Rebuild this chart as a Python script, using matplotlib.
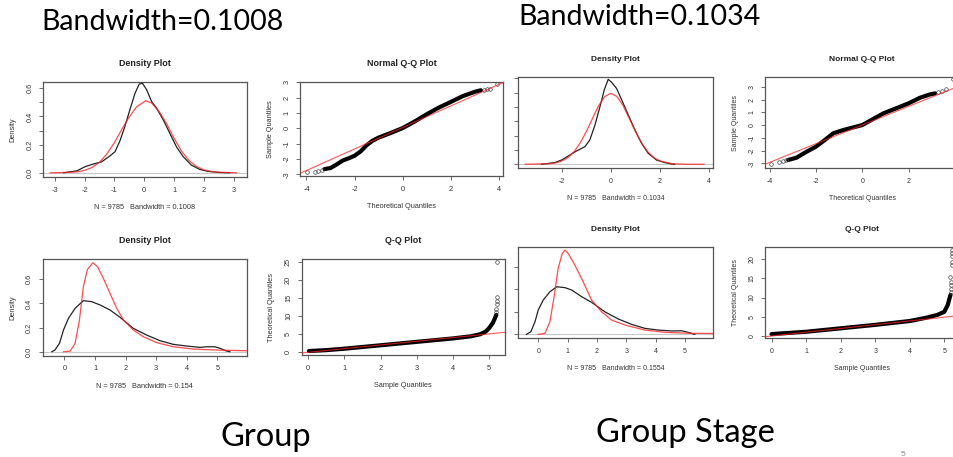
import matplotlib
matplotlib.use("Agg")
import matplotlib.pyplot as plt

# ---------------- data ----------------
# Top-left density (Group, residuals)
d1_kde_x = [-2.71, -2.26, -1.99, -1.71, -1.43, -1.15, -0.98, -0.81, -0.65, -0.48, -0.31, -0.17, -0.06,
            0.08, 0.25, 0.41, 0.64, 0.86, 1.08, 1.31, 1.58, 1.86, 2.14, 2.53, 2.87]
d1_kde_y = [0.0, 0.014, 0.043, 0.062, 0.078, 0.12, 0.15, 0.23, 0.33, 0.45, 0.565, 0.63, 0.636,
            0.59, 0.505, 0.46, 0.375, 0.28, 0.185, 0.114, 0.055, 0.024, 0.01, 0.002, 0.0]
d1_fit_x = [-3.15, -2.5, -2.25, -2.0, -1.75, -1.5, -1.25, -1.0, -0.75, -0.5, -0.25, 0.05, 0.25,
            0.5, 0.75, 1.0, 1.25, 1.5, 1.75, 2.0, 2.25, 2.5, 3.1]
d1_fit_y = [0.0, 0.003, 0.007, 0.017, 0.038, 0.075, 0.135, 0.215, 0.31, 0.398, 0.47, 0.512, 0.495,
            0.435, 0.35, 0.245, 0.155, 0.088, 0.045, 0.021, 0.009, 0.004, 0.0]

# Top-left normal Q-Q
q1_band_x = [-3.25, -3.0, -2.75, -2.5, -2.25, -2.0, -1.75, -1.5, -1.25, -1.0, -0.5, 0.0, 0.5, 1.0,
             1.5, 2.0, 2.5, 3.0, 3.25]
q1_band_y = [-2.65, -2.58, -2.35, -2.1, -1.95, -1.78, -1.5, -1.1, -0.8, -0.6, -0.3, 0.02, 0.45, 0.92,
             1.35, 1.72, 2.1, 2.38, 2.48]
q1_tail_x = [-3.97, -3.65, -3.51, -3.37, 3.36, 3.5, 3.63, 3.94]
q1_tail_y = [-2.85, -2.85, -2.79, -2.72, 2.51, 2.55, 2.57, 2.89]
q1_line = [0.06, 0.70]  # intercept, slope

# Top-right density (Group Stage, residuals)
d3_kde_x = [-2.83, -2.29, -2.01, -1.67, -1.40, -1.06, -0.86, -0.65, -0.45, -0.27, -0.11, 0.03, 0.23,
            0.44, 0.71, 0.98, 1.25, 1.52, 1.86, 2.2, 2.48, 2.6]
d3_kde_y = [0.0, 0.012, 0.03, 0.065, 0.093, 0.123, 0.17, 0.274, 0.40, 0.52, 0.593, 0.572, 0.53,
            0.45, 0.344, 0.24, 0.147, 0.077, 0.03, 0.012, 0.002, 0.0]
d3_fit_x = [-3.5, -2.5, -2.25, -2.0, -1.75, -1.5, -1.25, -1.0, -0.75, -0.5, -0.25, 0.0, 0.25, 0.5,
            0.75, 1.0, 1.25, 1.5, 1.75, 2.0, 2.5, 3.0, 3.8]
d3_fit_y = [0.0, 0.004, 0.01, 0.023, 0.047, 0.088, 0.15, 0.229, 0.32, 0.409, 0.473, 0.495, 0.473,
            0.409, 0.32, 0.229, 0.15, 0.088, 0.047, 0.023, 0.004, 0.0005, 0.0]

# Top-right normal Q-Q
q4_band_x = [-3.21, -2.85, -2.41, -2.01, -1.62, -1.26, -0.82, 0.0, 0.91, 2.0, 2.5, 2.93, 3.15]
q4_band_y = [-2.74, -2.56, -2.09, -1.7, -1.17, -0.65, -0.39, 0.0, 0.91, 1.7, 2.14, 2.4, 2.48]
q4_tail_x = [-3.93, -3.6, -3.45, -3.31, 3.29, 3.44, 3.63, 3.92]
q4_tail_y = [-3.08, -2.87, -2.82, -2.77, 2.56, 2.66, 2.79, 3.57]
q4_line = [0.0, 0.73]

# Bottom-left density (Group, responses)
d5_kde_x = [-0.41, -0.31, -0.16, -0.03, 0.13, 0.35, 0.62, 0.89, 1.17, 1.49, 1.82, 2.25, 2.69, 3.13,
            3.56, 4.0, 4.43, 4.65, 4.92, 5.09, 5.3, 5.41]
d5_kde_y = [0.0, 0.014, 0.07, 0.18, 0.276, 0.36, 0.423, 0.415, 0.387, 0.346, 0.285, 0.194, 0.138,
            0.091, 0.061, 0.047, 0.036, 0.041, 0.041, 0.028, 0.006, 0.0]
d5_fit_x = [-0.03, 0.19, 0.35, 0.49, 0.62, 0.75, 0.93, 1.08, 1.27, 1.49, 1.71, 1.93, 2.25, 2.58,
            3.02, 3.56, 4.22, 4.98, 5.96]
d5_fit_y = [0.0, 0.005, 0.07, 0.26, 0.54, 0.68, 0.738, 0.705, 0.61, 0.484, 0.36, 0.263, 0.18, 0.124,
            0.075, 0.041, 0.022, 0.014, 0.008]

# Bottom-left Q-Q
q6_band_x = [0.02, 0.5, 1.0, 2.0, 3.0, 4.0, 4.5, 4.75, 4.9, 5.0, 5.1, 5.15, 5.2]
q6_band_y = [0.35, 0.6, 1.0, 1.95, 2.9, 3.85, 4.45, 5.0, 5.7, 6.7, 8.1, 9.2, 10.4]
q6_tail_x = [5.2, 5.2, 5.22, 5.22, 5.22, 5.22]
q6_tail_y = [11.2, 12.0, 13.5, 14.3, 15.3, 25.0]
q6_line = [0.0, 1.02]

# Bottom-right density (Group Stage, responses)
d7_kde_x = [-0.4, -0.25, -0.11, 0.0, 0.17, 0.4, 0.63, 0.91, 1.14, 1.48, 1.82, 2.27, 2.73, 3.18,
            3.64, 4.09, 4.55, 4.89, 5.11, 5.34]
d7_kde_y = [0.0, 0.024, 0.112, 0.216, 0.304, 0.378, 0.422, 0.414, 0.393, 0.334, 0.284, 0.2, 0.136,
            0.089, 0.053, 0.038, 0.03, 0.032, 0.018, 0.0]
d7_fit_x = [0.0, 0.23, 0.4, 0.55, 0.68, 0.82, 0.91, 1.02, 1.25, 1.53, 1.82, 2.16, 2.5, 2.95, 3.64,
            4.32, 5.23, 5.97]
d7_fit_y = [0.0, 0.009, 0.112, 0.349, 0.585, 0.718, 0.747, 0.718, 0.614, 0.467, 0.304, 0.2, 0.127,
            0.083, 0.038, 0.018, 0.009, 0.008]

# Bottom-right Q-Q
q8_band_x = [0.0, 1.0, 2.0, 3.0, 4.0, 4.5, 4.8, 5.0, 5.1, 5.15, 5.18]
q8_band_y = [0.5, 1.1, 2.0, 2.9, 3.9, 4.8, 5.5, 6.3, 8.1, 9.8, 10.7]
q8_tail_x = [5.18, 5.18, 5.18, 5.18, 5.16, 5.21, 5.21, 5.21, 5.21, 5.21]
q8_tail_y = [11.5, 12.3, 13.2, 14.0, 15.3, 18.5, 19.2, 20.9, 21.6, 22.3]
q8_line = [0.0, 0.98]

bw_labels = ["Bandwidth=0.1008", "Bandwidth=0.1034"]
group_labels = ["Group", "Group Stage"]
dens_xlabels = ["N = 9785   Bandwidth = 0.1008", "N = 9785   Bandwidth = 0.1034",
                "N = 9785   Bandwidth = 0.154", "N = 9785   Bandwidth = 0.1554"]

# ---------------- figure ----------------
W, H = 954, 457
fig = plt.figure(figsize=(W / 100, H / 100), dpi=100)
fig.patch.set_facecolor("white")
FONT = "Liberation Sans"


def add_ax(l, t, r, b):
    return fig.add_axes([l / W, 1 - b / H, (r - l) / W, (b - t) / H])


def style(ax, fs, title, xlabel, ylabel, xticks, yticks, ylabels, xlim, ylim):
    ax.set_xlim(*xlim)
    ax.set_ylim(*ylim)
    for s in ax.spines.values():
        s.set_color("#555555")
        s.set_linewidth(0.9)
    ax.set_xticks(xticks)
    ax.set_xticklabels([("%g" % v) for v in xticks], fontfamily=FONT, fontsize=fs, color="#333333")
    ax.set_yticks(yticks)
    ax.set_yticklabels(ylabels, fontfamily=FONT, fontsize=fs, color="#333333",
                       rotation=90, va="center")
    ax.tick_params(direction="out", length=3.0, width=0.6, color="#555555", pad=4)
    ax.set_title(title, fontfamily=FONT, fontsize=fs * 1.2, fontweight="bold", pad=11.5,
                 color="#222222")
    ax.set_xlabel(xlabel, fontfamily=FONT, fontsize=fs, labelpad=7.5, color="#333333")
    if ylabel:
        ax.set_ylabel(ylabel, fontfamily=FONT, fontsize=fs, labelpad=7, color="#333333")


def density(ax, kx, ky, fx, fy):
    ax.axhline(0, color="#c8c8c8", lw=0.8, zorder=1)
    ax.plot(kx, ky, color="#222222", lw=0.9, zorder=3)
    ax.plot(fx, fy, color="#ff2020", lw=0.9, alpha=0.8, zorder=4)


def qq(ax, bx, by, tx, ty, line):
    ax.plot(bx, by, color="black", lw=3.0, solid_capstyle="round", solid_joinstyle="round", zorder=2)
    ax.plot(tx, ty, "o", mfc="none", mec="#444444", ms=2.6, mew=0.5, zorder=2)
    ax.axline((0, line[0]), slope=line[1], color="#ff2020", lw=0.8, alpha=0.75, zorder=3)


dens_y1 = [0.0, 0.1, 0.2, 0.3, 0.4, 0.5, 0.6]
dens_y1_lab = ["0.0", "", "0.2", "", "0.4", "", "0.6"]
dens_y2 = [0.0, 0.2, 0.4, 0.6]
dens_y2_lab = ["0.0", "0.2", "0.4", "0.6"]
qq_y = [-3, -2, -1, 0, 1, 2, 3]
qq_y_lab = ["-3", "-2", "-1", "0", "1", "2", "3"]

# Panel 1
ax = add_ax(43, 82, 247, 177)
density(ax, d1_kde_x, d1_kde_y, d1_fit_x, d1_fit_y)
style(ax, 5.3, "Density Plot", dens_xlabels[0], "Density", [-3, -2, -1, 0, 1, 2, 3],
      dens_y1, dens_y1_lab, (-3.4, 3.45), (-0.03, 0.645))

# Panel 2
ax = add_ax(300, 81.5, 503, 176)
qq(ax, q1_band_x, q1_band_y, q1_tail_x, q1_tail_y, q1_line)
style(ax, 5.3, "Normal Q-Q Plot", "Theoretical Quantiles", "Sample Quantiles", [-4, -2, 0, 2, 4],
      qq_y, qq_y_lab, (-4.27, 4.17), (-3.1, 3.05))

# Panel 3
ax = add_ax(518.3, 77.3, 713.3, 168.3)
density(ax, d3_kde_x, d3_kde_y, d3_fit_x, d3_fit_y)
style(ax, 5.0, "Density Plot", dens_xlabels[1], None, [-2, 0, 2, 4],
      dens_y1, [""] * 7, (-3.78, 4.18), (-0.028, 0.607))

# Panel 4
ax = add_ax(765, 77.3, 959.6, 168.3)
qq(ax, q4_band_x, q4_band_y, q4_tail_x, q4_tail_y, q4_line)
style(ax, 5.0, "Normal Q-Q Plot", "Theoretical Quantiles", "Sample Quantiles", [-4, -2, 0, 2, 4],
      qq_y, qq_y_lab, (-4.21, 4.21), (-3.39, 3.74))

# Panel 5
ax = add_ax(42.7, 259.3, 246.7, 355.7)
density(ax, d5_kde_x, d5_kde_y, d5_fit_x, d5_fit_y)
style(ax, 5.3, "Density Plot", dens_xlabels[2], "Density", [0, 1, 2, 3, 4, 5],
      dens_y2, dens_y2_lab, (-0.71, 5.96), (-0.033, 0.766))

# Panel 6
ax = add_ax(301.7, 259, 505, 355)
qq(ax, q6_band_x, q6_band_y, q6_tail_x, q6_tail_y, q6_line)
style(ax, 5.3, "Q-Q Plot", "Sample Quantiles", "Theoretical Quantiles", [0, 1, 2, 3, 4, 5],
      [0, 5, 10, 15, 20, 25], ["0", "5", "10", "15", "20", "25"], (-0.18, 5.44), (-0.75, 25.9))

# Panel 7
ax = add_ax(518.3, 246.7, 713.3, 338.3)
density(ax, d7_kde_x, d7_kde_y, d7_fit_x, d7_fit_y)
style(ax, 5.0, "Density Plot", dens_xlabels[3], None, [0, 1, 2, 3, 4, 5],
      dens_y2, [""] * 4, (-0.68, 5.97), (-0.035, 0.777))

# Panel 8
ax = add_ax(765, 247.3, 959.5, 338.3)
qq(ax, q8_band_x, q8_band_y, q8_tail_x, q8_tail_y, q8_line)
style(ax, 5.0, "Q-Q Plot", "Sample Quantiles", "Theoretical Quantiles", [0, 1, 2, 3, 4, 5],
      [0, 5, 10, 15, 20], ["0", "5", "10", "15", "20"], (-0.19, 5.44), (-0.6, 23.1))

# Slide texts
fig.text(41 / W, 1 - 22 / H, bw_labels[0], fontfamily="Lato", fontsize=20.5, va="center", ha="left")
fig.text(518 / W, 1 - 17 / H, bw_labels[1], fontfamily="Lato", fontsize=20.5, va="center", ha="left")
fig.text(266 / W, 1 - 437 / H, group_labels[0], fontfamily="Lato", fontsize=23.5, va="center", ha="center")
fig.text(685 / W, 1 - 433 / H, group_labels[1], fontfamily="Lato", fontsize=23.5, va="center", ha="center")
fig.text(903 / W, 1 - 455 / H, "5", fontfamily=FONT, fontsize=6, color="#888888", va="center", ha="center")

fig.savefig("out.png", dpi=100, facecolor="white")
